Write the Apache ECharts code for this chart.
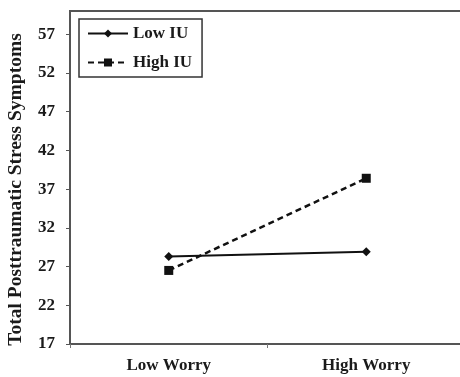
<!DOCTYPE html>
<html>
<head>
<meta charset="utf-8">
<script src="https://cdn.jsdelivr.net/npm/echarts@6/dist/echarts.min.js"></script>
<style>
  html, body { margin: 0; padding: 0; background: #fff; }
  #chart { width: 460px; height: 377px; }
</style>
</head>
<body>
<div id="chart"></div>
<script>
// values
const categories = ['Low Worry', 'High Worry']
const lowIU = [28.3, 28.9]
const highIU = [26.5, 38.4]
const yMin = 17
const yMax = 60
const yStep = 5

const font = 'Liberation Serif'
const ink = '#1a1a1a'

const chart = echarts.init(document.getElementById('chart'))

chart.setOption({
  backgroundColor: '#fff',
  animation: false,
  grid: {
    left: 70, top: 11, right: -5, bottom: 33,
    outerBoundsMode: 'none',
    containLabel: false,
    show: true, borderColor: '#555', borderWidth: 2
  },
  legend: {
    orient: 'vertical',
    left: 79, top: 19,
    padding: [6, 10, 6, 8],
    itemWidth: 40, itemHeight: 10, itemGap: 12,
    borderColor: '#333', borderWidth: 1.5,
    textStyle: { fontFamily: font, fontWeight: 'bold', fontSize: 17, color: ink },
    data: ['Low IU', 'High IU']
  },
  xAxis: {
    type: 'category',
    data: categories,
    boundaryGap: true,
    axisLine: { lineStyle: { color: '#555', width: 2 } },
    axisTick: { show: true, length: 4, lineStyle: { color: '#777' } },
    axisLabel: { fontFamily: font, fontWeight: 'bold', fontSize: 17, color: ink, margin: 13 }
  },
  yAxis: {
    type: 'value',
    min: yMin, max: yMax, interval: yStep,
    name: 'Total Posttraumatic Stress Symptoms',
    nameLocation: 'middle', nameRotate: 90, nameGap: 44,
    nameTextStyle: { fontFamily: font, fontWeight: 'bold', fontSize: 19.5, color: ink, padding: [0, 24, 0, 0] },
    splitLine: { show: false },
    axisLine: { show: true, lineStyle: { color: '#555', width: 2 } },
    axisTick: { show: true, length: 4, lineStyle: { color: '#555' } },
    axisLabel: { showMaxLabel: false, fontFamily: font, fontWeight: 'bold', fontSize: 17, color: ink, margin: 15 }
  },
  series: [
    {
      name: 'Low IU', type: 'line', data: lowIU,
      symbol: 'diamond', symbolSize: 9,
      lineStyle: { color: '#111', width: 2 },
      itemStyle: { color: '#111' }
    },
    {
      name: 'High IU', type: 'line', data: highIU,
      symbol: 'rect', symbolSize: 9,
      lineStyle: { color: '#111', width: 2.5, type: [6, 4] },
      itemStyle: { color: '#111' }
    }
  ]
})
</script>
</body>
</html>
